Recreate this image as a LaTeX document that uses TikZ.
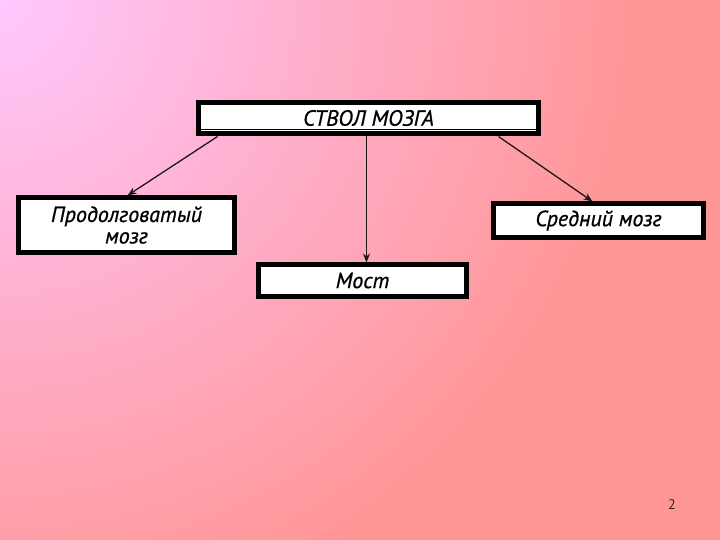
\documentclass[tikz,border=0pt]{standalone}
\usepackage{fontspec}
\setmainfont{PT Sans}
\newfontfamily\lblfont[FakeBold=0.8]{PT Sans}
\usetikzlibrary{arrows.meta,calc}
\definecolor{bgpink}{HTML}{FFC8FF}
\definecolor{bgmid}{HTML}{FFB0CE}
\definecolor{bgsalmon}{HTML}{FF9696}
\pgfdeclareradialshading{bgshade}{\pgfpoint{0bp}{0bp}}{color(0bp)=(bgpink); color(7.5bp)=(bgmid); color(16bp)=(bgsalmon); color(50bp)=(bgsalmon)}
\tikzset{
  framebox/.style={draw=black, line width=5pt, fill=white, inner sep=0pt, outer sep=0pt,
    font=\lblfont\itshape\fontsize{22}{21.5}\selectfont, align=center},
  link/.style={draw=black!90, line width=1.3pt, -{Stealth[length=9pt,width=7pt]}}
}
\begin{document}
\begin{tikzpicture}[x=1pt,y=-1pt]
  \useasboundingbox (0,0) rectangle (720,540);
  \begin{scope}
    \clip (0,0) rectangle (720,540);
    \shade[shading=bgshade] (-1000,-1000) rectangle (1000,1000);
  \end{scope}
  \node[framebox, minimum width=340pt, minimum height=31pt] (top) at (368.5,118) {СТВОЛ МОЗГА};
  \draw[line width=1pt] ([xshift=2.5pt,yshift=3.5pt]top.south west) -- ([xshift=-2.5pt,yshift=3.5pt]top.south east);
  \node[framebox, minimum width=216pt, minimum height=55pt] (left) at (126.5,225) {Продолговатый\\мозг};
  \node[framebox, minimum width=210pt, minimum height=34pt] (right) at (598.5,220.5) {Средний мозг};
  \node[framebox, minimum width=208pt, minimum height=32pt] (mid) at (362.5,280.5) {Мост};
  \coordinate (s1) at ([xshift=19pt,yshift=-3pt]top.south west);
  \coordinate (s2) at ([xshift=168pt,yshift=-3pt]top.south west);
  \coordinate (s3) at ([xshift=300pt,yshift=-3pt]top.south west);
  \draw[link] (s1) -- ([xshift=109pt,yshift=2pt]left.north west);
  \draw[link] (s2) -- ([xshift=108pt,yshift=2pt]mid.north west);
  \draw[link] (s3) -- ([xshift=99pt,yshift=2pt]right.north west);
  \node[font=\fontsize{14}{16}\selectfont, text=black!85] (pnum) at (672,505) {2};
\end{tikzpicture}
\end{document}
